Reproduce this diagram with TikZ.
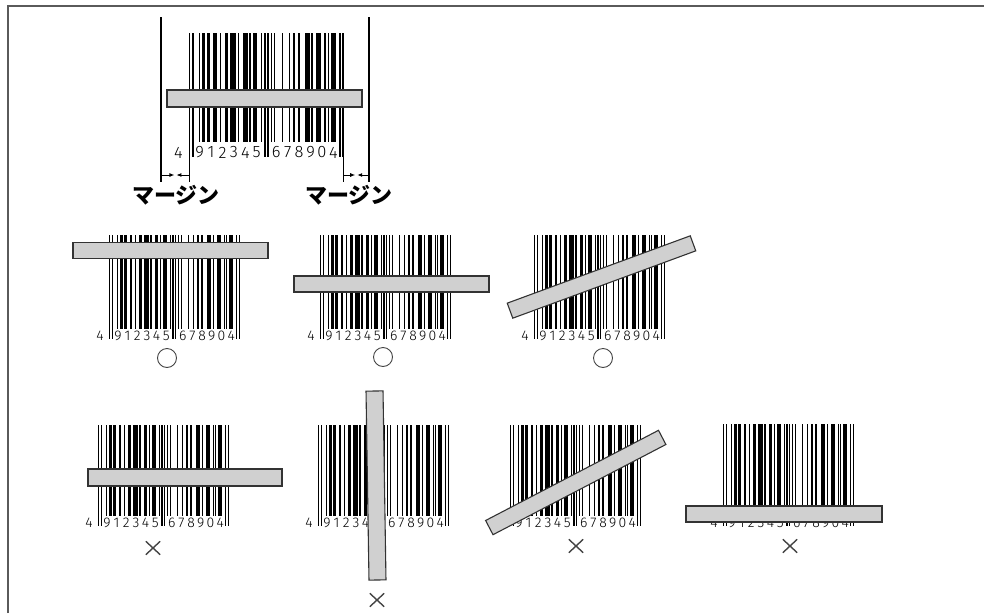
\documentclass[tikz,border=0pt]{standalone}
\usepackage{fontspec}
\newfontfamily\jpfont{Noto Sans CJK JP}
\newfontfamily\digfont{Fira Sans Light}
\usetikzlibrary{arrows.meta,shapes.misc}
\definecolor{scanfill}{HTML}{D0D0D0}
\definecolor{scanline}{HTML}{333333}
\definecolor{framec}{HTML}{5A5A5A}
\definecolor{markc}{HTML}{444444}
\tikzset{
  barc/.style={fill=black},
  scanbar/.style={draw=scanline,fill=scanfill,line width=1.1,inner sep=0,outer sep=0,rectangle},
  okmark/.style={draw=markc,circle,line width=0.9,minimum size=19,inner sep=0},
  ngmark/.style={draw=markc,cross out,line width=1.4,minimum width=13,minimum height=12,inner sep=0},
  marginline/.style={line width=2,black},
  extline/.style={line width=1,black},
  dimarrow/.style={line width=0.9,-{Latex[length=5,width=4]}},
  jplabel/.style={font=\jpfont\bfseries\fontsize{22}{22}\selectfont,inner sep=0}
}
% #1 x0, #2 module, #3 top, #4 bottom, #5 guard bottom
\newcommand{\eanbars}[5]{%
  \foreach \s/\w/\g in {0/1/1,2/1/1,6/1/0,8/2/0,11/2/0,15/2/0,19/1/0,22/2/0,25/4/0,30/1/0,33/3/0,37/1/0,39/3/0,44/1/0,46/1/1,48/1/1,50/1/0,52/1/0,57/1/0,61/1/0,64/1/0,67/1/0,71/3/0,75/1/0,78/3/0,83/1/0,85/1/0,87/3/0,92/1/1,94/1/1}{%
    \ifnum\g=1
      \fill[barc] ({#1+\s*#2},#3) rectangle ({#1+(\s+\w)*#2-0.2},#5);
    \else
      \fill[barc] ({#1+\s*#2},#3) rectangle ({#1+(\s+\w)*#2-0.2},#4);
    \fi
  }}
% #1 name prefix, #2 x0, #3 module, #4 y, #5 font size
\newcommand{\eandigits}[5]{%
  \node[inner sep=0,font=\digfont\fontsize{#5}{#5}\selectfont] (#1-f) at ({#2-6.5*#3},#4) {4};
  \foreach \i/\d in {0/9,1/1,2/2,3/3,4/4,5/5}
    \node[inner sep=0,font=\digfont\fontsize{#5}{#5}\selectfont] (#1-l\i) at ({#2+(6.5+7*\i)*#3},#4) {\d};
  \foreach \i/\d in {0/6,1/7,2/8,3/9,4/0,5/4}
    \node[inner sep=0,font=\digfont\fontsize{#5}{#5}\selectfont] (#1-r\i) at ({#2+(53.5+7*\i)*#3},#4) {\d};
}
\begin{document}
\begin{tikzpicture}[x=1pt,y=-1pt]
\useasboundingbox (0,0) rectangle (984,613);
% frame
\draw[framec,line width=1.8] (8,613) -- (8,6) -- (984,6);

% ---------- top barcode with margins ----------
\coordinate (mlt) at (161,17);
\coordinate (mlb) at (161,182);
\coordinate (mrt) at (369,17);
\coordinate (mrb) at (369,182);
\draw[marginline] (mlt) -- (mlb);
\draw[marginline] (mrt) -- (mrb);
\eanbars{189}{1.632}{33}{142}{157}
\eandigits{a}{189}{1.632}{152.5}{16.5}
\coordinate (elt) at (189.8,157);
\coordinate (elb) at (189.8,182);
\coordinate (ert) at (343.4,157);
\coordinate (erb) at (343.4,182);
\draw[extline] (elt) -- (elb);
\draw[extline] (ert) -- (erb);
\coordinate (al1) at (161,175);
\coordinate (al2) at (189.8,175);
\coordinate (alm1) at (174.4,175);
\coordinate (alm2) at (176.4,175);
\draw[dimarrow] (al1) -- (alm1);
\draw[dimarrow] (al2) -- (alm2);
\coordinate (ar1) at (343.4,175);
\coordinate (ar2) at (369,175);
\coordinate (arm1) at (355.2,175);
\coordinate (arm2) at (357.2,175);
\draw[dimarrow] (ar1) -- (arm1);
\draw[dimarrow] (ar2) -- (arm2);
\node[scanbar,minimum width=195,minimum height=17] (sa) at (264.5,98.5) {};
\node[jplabel] (lab1) at (176,195) {マージン};
\node[jplabel] (lab2) at (349,195) {マージン};

% ---------- row 2 ----------
\eanbars{109}{1.38}{235}{329}{339}
\eandigits{b1}{109}{1.38}{335.5}{14}
\node[scanbar,minimum width=195,minimum height=16] (sb1) at (170.5,250.5) {};
\node[okmark] (ok1) at (167,358) {};

\eanbars{320}{1.38}{235}{329}{339}
\eandigits{b2}{320}{1.38}{335.5}{14}
\node[scanbar,minimum width=195,minimum height=16] (sb2) at (391.5,284) {};
\node[okmark] (ok2) at (383,357) {};

\eanbars{534}{1.38}{235}{329}{339}
\eandigits{b3}{534}{1.38}{335.5}{14}
\node[scanbar,minimum width=195,minimum height=16,rotate=20.2] (sb3) at (601.5,277) {};
\node[okmark] (ok3) at (603,358) {};

% ---------- row 3 ----------
\eanbars{98}{1.38}{425}{516}{526}
\eandigits{c1}{98}{1.38}{523}{14}
\node[scanbar,minimum width=194,minimum height=17] (sc1) at (185,477.5) {};
\node[ngmark] (ng1) at (153,548) {};

\eanbars{318}{1.38}{425}{516}{526}
\eandigits{c2}{318}{1.38}{523}{14}
\node[scanbar,minimum width=17,minimum height=189,rotate=0.9] (sc2) at (376,485.5) {};
\node[ngmark] (ng2) at (377,600) {};

\eanbars{510}{1.38}{425}{516}{526}
\eandigits{c3}{510}{1.38}{523}{14}
\node[scanbar,minimum width=195,minimum height=16,rotate=27.55] (sc3) at (575.75,482.5) {};
\node[ngmark] (ng3) at (576,546) {};

\eanbars{723}{1.38}{424}{516}{526}
\eandigits{c4}{723}{1.38}{523}{14}
\node[scanbar,minimum width=196,minimum height=16] (sc4) at (784,514) {};
\node[ngmark] (ng4) at (790,546) {};
\end{tikzpicture}
\end{document}
